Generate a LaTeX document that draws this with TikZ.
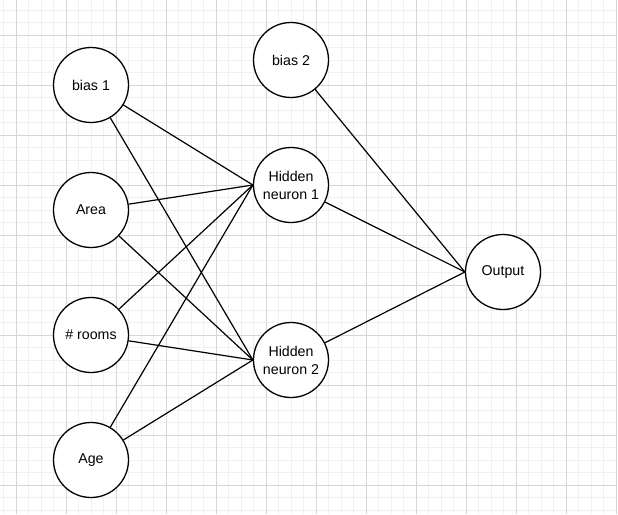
\documentclass[tikz,border=0pt]{standalone}
\usepackage{fontspec}
\setmainfont{Liberation Sans}
\begin{document}
\begin{tikzpicture}[x=1pt,y=-1pt,
  neuron/.style={circle,draw=black,fill=white,line width=1.3pt,minimum size=75pt,inner sep=0pt,align=center,font=\fontsize{14.2}{18}\selectfont},
  link/.style={line width=1.2pt,draw=black}]
\useasboundingbox (0,0) rectangle (618,514);
\fill[white] (0,0) rectangle (618,514);
% minor grid
\foreach \i in {0,...,48} {
  \draw[line width=0.8pt,draw=black!6] ({3.5+12.5*\i},0) -- ({3.5+12.5*\i},514);
}
\foreach \i in {0,...,41} {
  \draw[line width=0.8pt,draw=black!6] (0,{10+12.5*\i}) -- (616.5,{10+12.5*\i});
}
% major grid
\foreach \i in {0,...,12} {
  \draw[line width=0.9pt,draw=black!16] ({16+50*\i},0) -- ({16+50*\i},514);
}
\foreach \i in {0,...,9} {
  \draw[line width=0.9pt,draw=black!16] (0,{35+50*\i}) -- (616.5,{35+50*\i});
}
\node[neuron] (b1) at (91,85) {bias 1};
\node[neuron] (area) at (91,210) {Area};
\node[neuron] (rooms) at (91,335) {\# rooms};
\node[neuron] (age) at (91,460) {Age};
\node[neuron] (b2) at (291,60) {bias 2};
\node[neuron] (h1) at (291,185) {Hidden\\neuron 1};
\node[neuron] (h2) at (291,360) {Hidden\\neuron 2};
\node[neuron] (out) at (503,272) {Output};
\foreach \s in {b1,area,rooms,age} {
  \draw[link] (\s) -- (h1.west);
  \draw[link] (\s) -- (h2.west);
}
\foreach \s in {b2,h1,h2} {
  \draw[link] (\s) -- (out.west);
}
\end{tikzpicture}
\end{document}
